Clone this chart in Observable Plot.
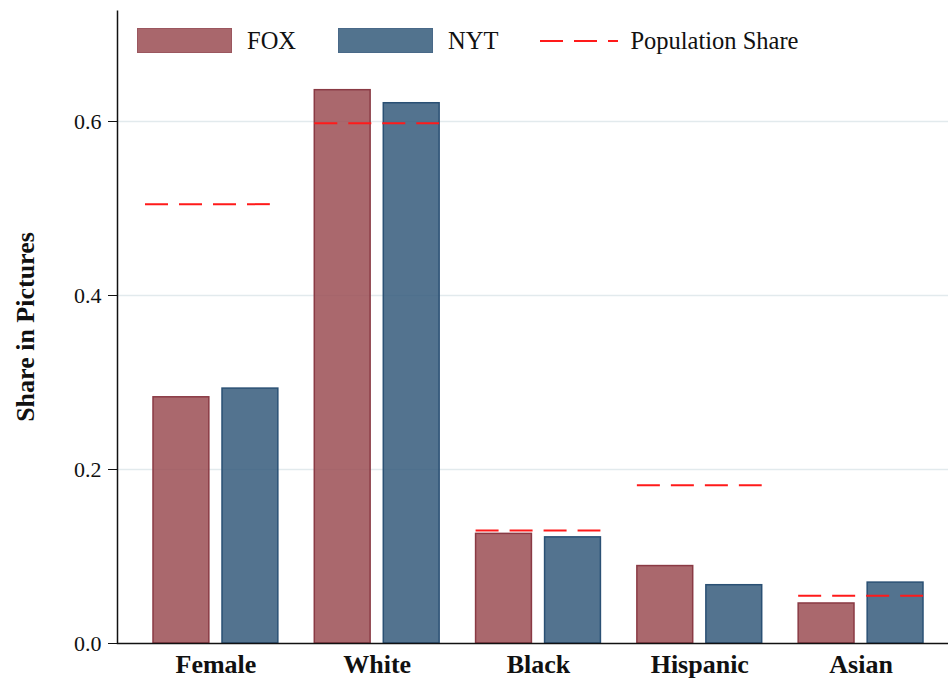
<!DOCTYPE html>
<html>
<head>
<meta charset="utf-8">
<script src="https://cdn.jsdelivr.net/npm/d3@7"></script>
<script src="https://cdn.jsdelivr.net/npm/@observablehq/plot@0.6"></script>
<style>
  body { margin: 0; background: #fff; font-family: "Liberation Serif", serif; }
  #wrap { position: relative; width: 948px; height: 682px; }
  #legend { position: absolute; left: 137px; top: 28px; display: flex; align-items: center; font-size: 24.5px; color: #111; line-height: 25px; }
  .sw { width: 93px; height: 23px; border: 1.5px solid; margin-right: 15px; }
  .item { display: flex; align-items: center; margin-right: 42px; }
  g[aria-label="y-axis label"] text { font-weight: bold; font-size: 26px; }
</style>
</head>
<body>
<div id="wrap">
  <div id="chart"></div>
  <div id="legend"></div>
</div>
<script>
const categories = ["Female", "White", "Black", "Hispanic", "Asian"];
const fox = [0.283, 0.636, 0.126, 0.089, 0.046];
const nyt = [0.293, 0.621, 0.122, 0.067, 0.070];
const population = [0.505, 0.598, 0.130, 0.182, 0.055];
const yTicks = [0, 0.2, 0.4, 0.6];
const seriesNames = ["FOX", "NYT", "Population Share"];

const foxFill = "#9b4d53", foxStroke = "#8a3a44";
const nytFill = "#355b7b", nytStroke = "#2a5074";
const popColor = "#ff1a1a";

const foxRows = categories.map((c, i) => ({category: c, value: fox[i]}));
const nytRows = categories.map((c, i) => ({category: c, value: nyt[i]}));
const popRows = categories.map((c, i) => ({category: c, value: population[i]}));

const W = 948, H = 682, mL = 117, mR = 0, mT = 10, mB = 39;
const fw = W - mL - mR, fh = H - mT - mB;

const chart = Plot.plot({
  width: W, height: H,
  marginLeft: mL, marginRight: mR, marginTop: mT, marginBottom: mB,
  style: {fontFamily: "'Liberation Serif', serif", background: "white", color: "#111"},
  x: {domain: categories, range: [153, 923], paddingInner: 0.226, paddingOuter: 0, round: false, label: null},
  y: {domain: [0, 0.7276]},
  marks: [
    Plot.gridY(yTicks.slice(1), {stroke: "#e2eaed", strokeOpacity: 1, strokeWidth: 1.5}),
    Plot.barY(foxRows, {x: "category", y: "value", insetRight: 69, fill: foxFill, fillOpacity: 0.85, stroke: foxStroke, strokeWidth: 1.5}),
    Plot.barY(nytRows, {x: "category", y: "value", insetLeft: 69, fill: nytFill, fillOpacity: 0.85, stroke: nytStroke, strokeWidth: 1.5}),
    Plot.tickY(popRows.slice(0, 1), {x: "category", y: "value", dx: -8, stroke: popColor, strokeWidth: 2, strokeDasharray: "23 11"}),
    Plot.tickY(popRows.slice(1), {x: "category", y: "value", stroke: popColor, strokeWidth: 2, strokeDasharray: "23 11"}),
    Plot.frame({stroke: "#111", strokeWidth: 1.5, strokeDasharray: `0 ${fw + fh} ${fw + fh} 0`}),
    Plot.axisY(yTicks, {tickFormat: d3.format(".1f"), tickSize: 9, tickPadding: 7, fontSize: 22, stroke: "#111",
      label: "Share in Pictures", labelAnchor: "center", labelOffset: 102, labelArrow: "none"}),
    Plot.axisX({tickSize: 0, tickPadding: 11, fontSize: 26, fontWeight: "bold", label: null})
  ]
});
document.getElementById("chart").appendChild(chart);

// legend
const legend = document.getElementById("legend");
const swatches = [[foxFill, foxStroke], [nytFill, nytStroke]];
seriesNames.forEach((name, i) => {
  const item = document.createElement("div");
  item.className = "item";
  if (i < 2) {
    const sw = document.createElement("div");
    sw.className = "sw";
    sw.style.background = swatches[i][0];
    sw.style.opacity = 0.85;
    sw.style.borderColor = swatches[i][1];
    item.appendChild(sw);
  } else {
    const ns = "http://www.w3.org/2000/svg";
    const svg = document.createElementNS(ns, "svg");
    svg.setAttribute("width", 78); svg.setAttribute("height", 6);
    svg.style.marginRight = "12px";
    const line = document.createElementNS(ns, "line");
    line.setAttribute("x1", 0); line.setAttribute("x2", 78);
    line.setAttribute("y1", 3); line.setAttribute("y2", 3);
    line.setAttribute("stroke", popColor); line.setAttribute("stroke-width", 2);
    line.setAttribute("stroke-dasharray", "23 11");
    svg.appendChild(line);
    item.appendChild(svg);
  }
  const t = document.createElement("span");
  t.textContent = name;
  item.appendChild(t);
  legend.appendChild(item);
});
</script>
</body>
</html>
